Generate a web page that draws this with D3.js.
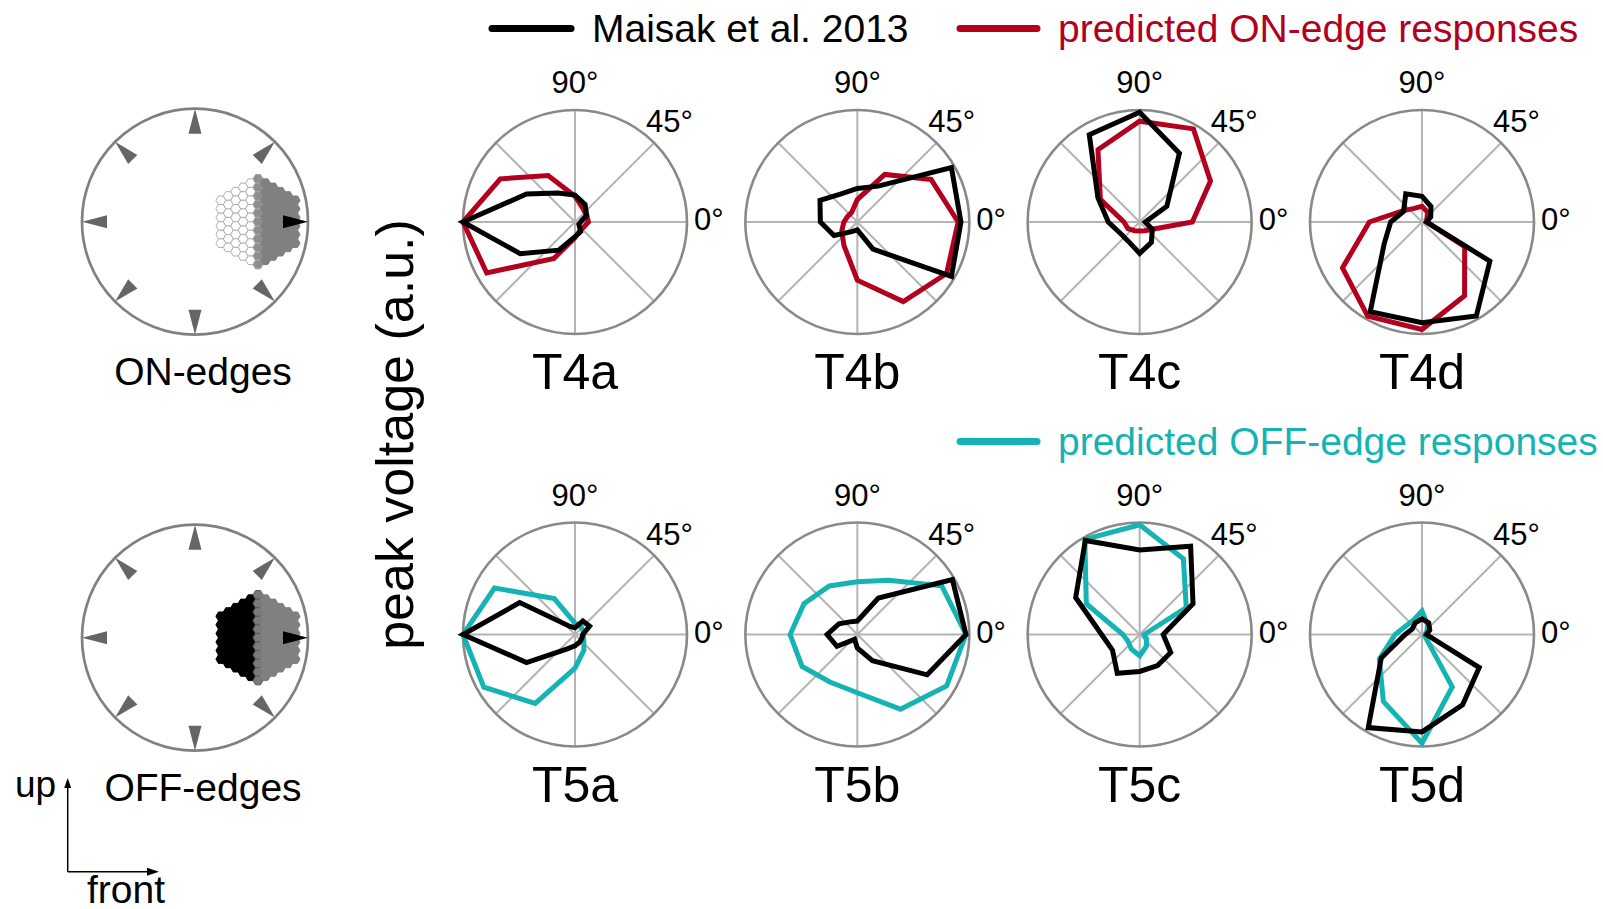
<!DOCTYPE html>
<html>
<head>
<meta charset="utf-8">
<script src="https://cdn.jsdelivr.net/npm/d3@7"></script>
<style>
  html, body { margin: 0; padding: 0; background: #fff; }
  svg { display: block; }
  text { font-family: "Liberation Sans", Arial, Helvetica, sans-serif; }
</style>
</head>
<body>
<svg id="fig" width="1603" height="909"></svg>
<script>
// Stimulus directions (degrees, counter-clockwise from "front")
const directions = [0, 30, 60, 90, 120, 150, 180, 210, 240, 270, 300, 330];

// Cell types per row
const t4Cells = ["T4a", "T4b", "T4c", "T4d"];
const t5Cells = ["T5a", "T5b", "T5c", "T5d"];

// Normalised peak voltage, one value per direction
const T4a_maisak    = [0.05, 0.12, 0.18, 0.24, 0.30, 0.50, 1.00, 0.565, 0.29, 0.13, 0.10, 0.04];
const T4a_predicted = [0.12, 0.12, 0.14, 0.23, 0.48, 0.77, 1.00, 0.91, 0.375, 0.14, 0.09, 0.09];
const T4b_maisak    = [0.925, 0.97, 0.37, 0.30, 0.29, 0.385, 0.33, 0.24, 0.10, 0.07, 0.28, 0.97];
const T4b_predicted = [0.90, 0.76, 0.49, 0.20, 0.10, 0.10, 0.12, 0.16, 0.24, 0.52, 0.82, 0.92];
const T4c_maisak    = [0.05, 0.28, 0.71, 0.98, 0.90, 0.43, 0.28, 0.20, 0.20, 0.28, 0.21, 0.13];
const T4c_predicted = [0.47, 0.73, 0.96, 0.90, 0.745, 0.405, 0.14, 0.12, 0.09, 0.08, 0.09, 0.13];
const T4d_maisak    = [0.04, 0.09, 0.16, 0.23, 0.29, 0.19, 0.28, 0.39, 0.925, 0.90, 0.97, 0.70];
const T4d_predicted = [0.04, 0.05, 0.10, 0.14, 0.14, 0.20, 0.47, 0.82, 0.97, 0.96, 0.76, 0.44];

const T5a_maisak    = [0.07, 0.15, 0.14, 0.06, 0.08, 0.57, 1.00, 0.50, 0.15, 0.10, 0.08, 0.07];
const T5a_predicted = [0.075, 0.08, 0.09, 0.10, 0.37, 0.83, 1.00, 0.94, 0.71, 0.30, 0.16, 0.09];
const T5b_maisak    = [0.97, 0.98, 0.376, 0.12, 0.13, 0.19, 0.27, 0.21, 0.05, 0.12, 0.27, 0.72];
const T5b_predicted = [0.97, 0.87, 0.56, 0.47, 0.50, 0.55, 0.60, 0.57, 0.49, 0.52, 0.77, 0.92];
const T5c_maisak    = [0.21, 0.55, 0.91, 0.755, 0.97, 0.66, 0.34, 0.28, 0.40, 0.33, 0.32, 0.32];
const T5c_predicted = [0.04, 0.48, 0.78, 0.98, 0.98, 0.55, 0.15, 0.12, 0.15, 0.19, 0.12, 0.07];
const T5d_maisak    = [0.04, 0.08, 0.12, 0.14, 0.12, 0.10, 0.15, 0.42, 0.96, 0.87, 0.725, 0.59];
const T5d_predicted = [0.03, 0.05, 0.10, 0.21, 0.15, 0.16, 0.24, 0.44, 0.69, 0.97, 0.54, 0.03];

const maisakRows    = [[T4a_maisak, T4b_maisak, T4c_maisak, T4d_maisak],
                       [T5a_maisak, T5b_maisak, T5c_maisak, T5d_maisak]];
const predictedRows = [[T4a_predicted, T4b_predicted, T4c_predicted, T4d_predicted],
                       [T5a_predicted, T5b_predicted, T5c_predicted, T5d_predicted]];

// Polar grid labels
const spokeAngles = [0, 45, 90, 135];
const angleLabels = ["0°", "45°", "90°"];

// Legend entries
const legendMaisak = "Maisak et al. 2013";
const legendOn = "predicted ON-edge responses";
const legendOff = "predicted OFF-edge responses";

const COLORS = { maisak: "#000000", on: "#b2001e", off: "#15b3b3" };

const svg = d3.select("#fig");
svg.append("rect").attr("width", 1603).attr("height", 909).attr("fill", "#fff");

// ---------- polar panels ----------
const R = 112;
const colX = d3.scalePoint().domain(d3.range(4)).range([575, 1422]);
const rowY = d3.scalePoint().domain(d3.range(2)).range([222, 634.5]);
const rScale = d3.scaleLinear().domain([0, 1]).range([0, R]);
// math angle (ccw from right) -> d3 radial angle (cw from top)
const aScale = d3.scaleLinear().domain([0, 360]).range([Math.PI / 2, Math.PI / 2 - 2 * Math.PI]);

const radial = d3.lineRadial()
  .angle((d, i) => aScale(directions[i]))
  .radius(d => rScale(d))
  .curve(d3.curveLinearClosed);

function polarPanel(row, col) {
  const cx = colX(col), cy = rowY(row);
  const g = svg.append("g").attr("transform", `translate(${cx},${cy})`);

  spokeAngles.forEach(a => {
    const p1 = d3.pointRadial(aScale(a), R);
    const p2 = d3.pointRadial(aScale(a + 180), R);
    g.append("line")
      .attr("x1", p1[0]).attr("y1", p1[1]).attr("x2", p2[0]).attr("y2", p2[1])
      .attr("stroke", "#b4b4b4").attr("stroke-width", 2);
  });
  g.append("circle").attr("r", R).attr("fill", "none")
    .attr("stroke", "#898989").attr("stroke-width", 2.6);

  // angle labels
  g.append("text").attr("x", 0).attr("y", -129).attr("text-anchor", "middle")
    .attr("font-size", 31).text(angleLabels[2]);
  g.append("text").attr("x", 71).attr("y", -90).attr("text-anchor", "start")
    .attr("font-size", 31).text(angleLabels[1]);
  g.append("text").attr("x", 119).attr("y", 8).attr("text-anchor", "start")
    .attr("font-size", 31).text(angleLabels[0]);

  g.append("path").attr("d", radial(predictedRows[row][col]))
    .attr("fill", "none").attr("stroke", row === 0 ? COLORS.on : COLORS.off)
    .attr("stroke-width", 5).attr("stroke-linejoin", "miter");
  g.append("path").attr("d", radial(maisakRows[row][col]))
    .attr("fill", "none").attr("stroke", COLORS.maisak)
    .attr("stroke-width", 5).attr("stroke-linejoin", "miter");

  g.append("text").attr("x", 0).attr("y", 167).attr("text-anchor", "middle")
    .attr("font-size", 50).text((row === 0 ? t4Cells : t5Cells)[col]);
}
for (let row = 0; row < 2; row++) for (let col = 0; col < 4; col++) polarPanel(row, col);

// ---------- legend ----------
function legendItem(x1, x2, y, color, label) {
  svg.append("line").attr("x1", x1).attr("x2", x2).attr("y1", y).attr("y2", y)
    .attr("stroke", color).attr("stroke-width", 7).attr("stroke-linecap", "round");
  svg.append("text").attr("x", x2 + 21).attr("y", y + 13).attr("font-size", 39)
    .attr("fill", color).text(label);
}
legendItem(492, 571, 28.6, COLORS.maisak, legendMaisak);
legendItem(960, 1037, 28.6, COLORS.on, legendOn);
legendItem(960, 1037, 441.5, COLORS.off, legendOff);

// ---------- y-axis title ----------
svg.append("text")
  .attr("transform", "translate(413,434.5) rotate(-90)")
  .attr("text-anchor", "middle").attr("font-size", 52)
  .text("peak voltage (a.u.)");

// ---------- stimulus icons ----------
const iconR = 113;
const hexS = 4.95;
function hexPath(s) {
  return d3.range(6).map(k => {
    const a = Math.PI / 3 * k;
    return [s * Math.cos(a), s * Math.sin(a)];
  });
}
function stimulusIcon(cx, cy, label, leftFill, leftStroke, midFill, midStroke) {
  const g = svg.append("g").attr("transform", `translate(${cx},${cy})`);
  g.append("circle").attr("r", iconR).attr("fill", "none")
    .attr("stroke", "#808080").attr("stroke-width", 2.7);

  // eye patch of hexagonal columns
  const patch = g.append("g").attr("transform", "translate(63,0)");
  const N = 5, cells = [];
  for (let q = -N; q <= N; q++) for (let r = -N; r <= N; r++) {
    if (Math.abs(q + r) <= N) cells.push({ q, r });
  }
  const hex = d3.line()(hexPath(hexS)) + "Z";
  patch.selectAll("path").data(cells).join("path")
    .attr("d", hex)
    .attr("transform", d => `translate(${1.5 * hexS * d.q},${Math.sqrt(3) * hexS * (d.r + d.q / 2)})`)
    .attr("fill", d => d.q < 0 ? leftFill : d.q === 0 ? midFill : "#808080")
    .attr("stroke", d => d.q < 0 ? leftStroke : d.q === 0 ? midStroke : "#808080")
    .attr("stroke-width", 1);

  // motion direction arrowheads
  d3.range(0, 360, 45).forEach(a => {
    const th = a * Math.PI / 180;
    const ux = Math.cos(th), uy = -Math.sin(th);
    const tip = [ux * iconR, uy * iconR];
    const bx = ux * (iconR - 25), by = uy * (iconR - 25);
    const w = 6.5;
    const pts = [tip, [bx - uy * w, by + ux * w], [bx + uy * w, by - ux * w]];
    g.append("path").attr("d", d3.line()(pts) + "Z")
      .attr("fill", a === 0 ? "#000" : "#666");
  });

  svg.append("text").attr("x", cx + 8).attr("y", cy + 163).attr("text-anchor", "middle")
    .attr("font-size", 39).text(label);
}
stimulusIcon(195, 221.7, "ON-edges", "#ffffff", "#b0b0b0", "#8e8e8e", "#a6a6a6");
stimulusIcon(195, 637.7, "OFF-edges", "#000000", "#000000", "#7a7a7a", "#5a5a5a");

// ---------- orientation axes ----------
const ox = 67.7, oy = 871.7;
svg.append("line").attr("x1", ox).attr("y1", oy).attr("x2", ox).attr("y2", 786)
  .attr("stroke", "#000").attr("stroke-width", 1.5);
svg.append("path").attr("d", d3.line()([[ox, 778], [ox - 3.5, 788], [ox + 3.5, 788]]) + "Z").attr("fill", "#000");
svg.append("line").attr("x1", ox).attr("y1", oy).attr("x2", 150).attr("y2", oy)
  .attr("stroke", "#000").attr("stroke-width", 1.5);
svg.append("path").attr("d", d3.line()([[159, oy], [147, oy - 4], [147, oy + 4]]) + "Z").attr("fill", "#000");
svg.append("text").attr("x", 15).attr("y", 797).attr("font-size", 37).text("up");
svg.append("text").attr("x", 87).attr("y", 903).attr("font-size", 39).text("front");
</script>
</body>
</html>
